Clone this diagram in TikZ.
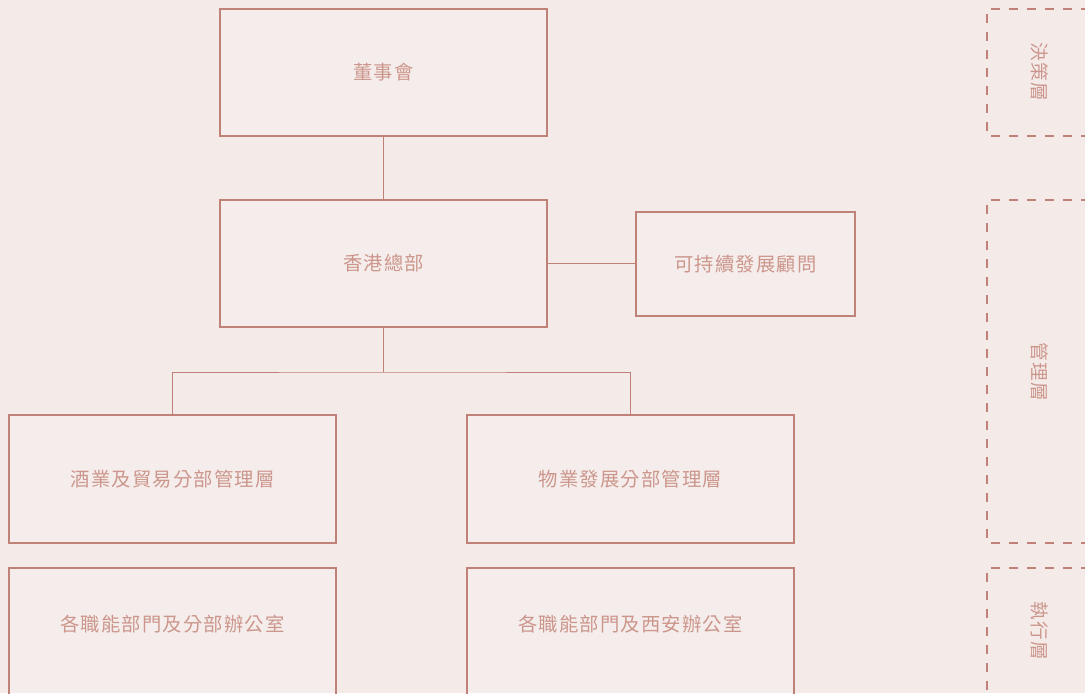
\documentclass[tikz,border=0pt]{standalone}
\usepackage{fontspec}
\newfontfamily\cjk[LetterSpace=6]{Noto Sans CJK TC}
\definecolor{bgpink}{RGB}{244,235,233}
\definecolor{rosebrown}{RGB}{192,130,120}
\definecolor{rosetext}{RGB}{204,150,140}
\newcommand{\liftup}[1]{\raisebox{5.25pt}[0.85em][0.15em]{#1}}
\tikzset{
  orgbox/.style={draw=rosebrown, line width=0.8pt, fill=white, fill opacity=0.12, text opacity=1,
    inner sep=0pt, outer sep=0pt, text=rosetext, font=\cjk\fontsize{14.5}{16}\selectfont},
  layerlabel/.style={rotate=-90, text=rosetext, font=\cjk\fontsize{14}{16}\selectfont, inner sep=0pt},
  layerframe/.style={draw=rosebrown, line width=1pt, dash pattern=on 7pt off 6.5pt},
  link/.style={draw=rosebrown, line width=0.75pt}
}
\begin{document}
\begin{tikzpicture}[x=0.75pt,y=0.75pt,yscale=-1,xscale=1]
	\useasboundingbox (0,0) rectangle (1085,693);
	\clip (0,0) rectangle (1085,693);
	\fill [bgpink] (0,0) rectangle (1085,693);
	% boxes
	\node [orgbox, minimum width=245.25pt, minimum height=95.25pt] (board) at (383.5,72.5) {董事會};
	\node [orgbox, minimum width=245.25pt, minimum height=95.25pt] (hq) at (383.5,263.5) {香港總部};
	\node [orgbox, minimum width=164.25pt, minimum height=78pt] (advisor) at (745.5,264) {可持續發展顧問};
	\node [orgbox, minimum width=245.25pt, minimum height=96pt] (wine) at (172.5,479) {酒業及貿易分部管理層};
	\node [orgbox, minimum width=245.25pt, minimum height=96pt] (prop) at (630.5,479) {物業發展分部管理層};
	\node [orgbox, minimum width=245.25pt, minimum height=96pt] (wineoff) at (172.5,632) {\liftup{各職能部門及分部辦公室}};
	\node [orgbox, minimum width=245.25pt, minimum height=96pt] (xianoff) at (630.5,632) {\liftup{各職能部門及西安辦公室}};
	\coordinate (split) at (383.5,372);
	% connectors
	\draw [link] (board.south) -- (hq.north);
	\draw [link] (hq.east) -- (hq.east -| advisor.west);
	\draw [link] (hq.south) -- (split);
	\draw [link] (wine.north) |- (split) -| (prop.north);
	% layers
	\draw [layerframe] (1090,9) -- (987,9) -- (987,136) -- (1090,136);
	\draw [layerframe] (1090,200) -- (987,200) -- (987,543) -- (1090,543);
	\draw [layerframe] (1090,568) -- (987,568) -- (987,700);
	\node [layerlabel] (decide) at (1040,72) {決策層};
	\node [layerlabel] (manage) at (1040,372) {管理層};
	\node [layerlabel] (execute) at (1040,631) {執行層};
\end{tikzpicture}
\end{document}
